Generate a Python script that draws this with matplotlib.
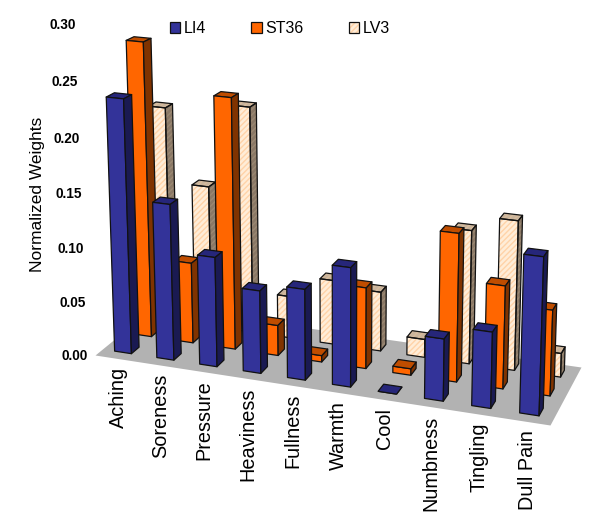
import numpy as np
import matplotlib
matplotlib.use("Agg")
import matplotlib.pyplot as plt
from matplotlib.patches import Patch
from matplotlib.legend_handler import HandlerTuple
from mpl_toolkits.mplot3d.art3d import Poly3DCollection

plt.rcParams['font.family'] = ['Liberation Sans', 'DejaVu Sans']
plt.rcParams['hatch.linewidth'] = 1.0

# ---- data -------------------------------------------------------------
categories = ['Aching', 'Soreness', 'Pressure', 'Heaviness', 'Fullness',
              'Warmth', 'Cool', 'Numbness', 'Tingling', 'Dull Pain']
series_names = ['LI4', 'ST36', 'LV3']
li4 = [0.234, 0.144, 0.101, 0.076, 0.083, 0.108, 0.000, 0.056, 0.068, 0.139]
st36 = [0.275, 0.076, 0.233, 0.0285, 0.006, 0.075, 0.006, 0.135, 0.0935, 0.0775]
lv3 = [0.205, 0.135, 0.214, 0.040, 0.061, 0.056, 0.017, 0.124, 0.138, 0.022]
yticks = [0.00, 0.05, 0.10, 0.15, 0.20, 0.25, 0.30]
ylabel = 'Normalized Weights'

# ---- camera: where the floor corners and the vertical axis land --------
W, H = 600, 522
n = len(categories)
ZMAX = 0.30
A, B, C, D = [np.array(p, float) for p in [(95, 355), (550, 425), (581, 367), (155, 306)]]
VANISH = np.array([341.0, 7200.0])
AXIS_TOP_Y = 24.0

gh = np.linalg.solve(np.column_stack([B - C, D - C]), A - B + C - D)
g, h = gh
t = (AXIS_TOP_Y - A[1]) / (VANISH[1] - AXIS_TOP_Y) / ZMAX
P = np.zeros((3, 4))
P[:2, 0] = (B * (1 + g) - A) / n
P[2, 0] = g / n
P[:2, 1] = D * (1 + h) - A
P[2, 1] = h
P[:2, 2] = t * VANISH
P[2, 2] = t
P[:2, 3] = A
P[2, 3] = 1.0


def project(x, y, z):
    q = P @ np.array([x, y, z, 1.0])
    return q[0] / q[2], q[1] / q[2]


fig = plt.figure(figsize=(W / 100, H / 100), dpi=100, facecolor='white')
ax = fig.add_axes([0, 0, 1, 1], projection='3d')
ax.set_axis_off()
ax.computed_zorder = False


def get_proj():
    T = ax.transData.get_matrix()
    flip = np.array([[1, 0, 0], [0, -1, H], [0, 0, 1.0]])
    q = np.linalg.inv(T) @ flip @ P
    return np.vstack([q[0], q[1], [0, 0, 0, 1.0], q[2]])


ax.get_proj = get_proj

# ---- styles ------------------------------------------------------------
colors = [
    dict(front='#333399', side='#1A1A52', top='#26267A'),
    dict(front='#FF6600', side='#803300', top='#BF4D00'),
    dict(front='#FFEDD8', side='#8A7866', top='#C9B49C'),
]
hatch_colors = dict(front='#FFD3A8', side='#9A8872', top='#D8BC9C')
EDGE = '#111111'
LW = 0.9
BAR_X = (0.30, 0.70)
SLOT_Y = [(1 / 9, 1 / 9 + 0.125), (4 / 9, 4 / 9 + 0.125), (7 / 9, 7 / 9 + 0.125)]
GREY = '#808080'
CLEAR = (0, 0, 0, 0)


def faces(u, yr, z):
    x0, x1 = u + BAR_X[0], u + BAR_X[1]
    y0, y1 = yr
    return dict(
        front=[(x0, y0, 0), (x1, y0, 0), (x1, y0, z), (x0, y0, z)],
        side=[(x1, y0, 0), (x1, y1, 0), (x1, y1, z), (x1, y0, z)],
        top=[(x0, y0, z), (x1, y0, z), (x1, y1, z), (x0, y1, z)],
    )


def add(verts, zo, **kw):
    c = Poly3DCollection(verts, zorder=zo, clip_on=False, **kw)
    ax.add_collection3d(c, autolim=False)
    return c


# floor
add([[(0, 0, 0), (n, 0, 0), (n, 1, 0), (0, 1, 0)]], 1,
    facecolors='#B2B2B2', edgecolors='#B2B2B2', linewidths=0)
ax.plot([0, n], [0, 0], [0, 0], color=GREY, lw=0.9, zorder=2, clip_on=False)
ax.plot([0, 0], [0, 0], [0, ZMAX], color=GREY, lw=0.9, zorder=2, clip_on=False)
for u in range(n + 1):
    ax.plot([u, u], [0, 0], [0, -0.0055], color=GREY, lw=0.9, zorder=2, clip_on=False)
for v in yticks:
    ax.plot([0, -0.15], [0, 0], [v, v], color=GREY, lw=0.9, zorder=2, clip_on=False)

# bars: back row first, left to right in each row
zo = 10
for s in (2, 1, 0):
    vals = [li4, st36, lv3][s]
    for u, val in enumerate(vals):
        f = faces(u, SLOT_Y[s], val)
        names = ['front', 'side', 'top']
        if s == 2:
            for name in names:
                add([f[name]], zo, facecolors=colors[s][name],
                    edgecolors=hatch_colors[name], linewidths=0, hatch='//////')
            zo += 1
            add([f[k] for k in names], zo, facecolors=[CLEAR] * 3,
                edgecolors=EDGE, linewidths=LW)
        else:
            add([f[k] for k in names], zo,
                facecolors=[colors[s][k] for k in names],
                edgecolors=EDGE, linewidths=LW)
        zo += 1


def figxy(px, py):
    return px / W, 1 - py / H


# tick labels
for v in yticks:
    px, py = project(0, 0, v)
    fx, fy = figxy(px - 7, py + 1)
    fig.text(fx, fy, f'{v:.2f}', ha='right', va='center', fontsize=9.8,
             fontweight='bold', color='black')
for u, name in enumerate(categories):
    px, py = project(u + 0.5, 0, 0)
    fx, fy = figxy(px + 2, py + 9)
    fig.text(fx, fy, name, rotation=90, ha='center', va='top', fontsize=14.3,
             color='black')
fx, fy = figxy(38, 194)
fig.text(fx, fy, ylabel, rotation=90, ha='center', va='center', fontsize=12.5,
         color='black')

# legend
h1 = Patch(facecolor=colors[0]['front'], edgecolor=EDGE, linewidth=LW)
h2 = Patch(facecolor=colors[1]['front'], edgecolor=EDGE, linewidth=LW)
h3a = Patch(facecolor=colors[2]['front'], edgecolor=hatch_colors['front'], linewidth=0, hatch='//////')
h3b = Patch(facecolor='none', edgecolor=EDGE, linewidth=LW)
lx, ly = figxy(170, 21)
fig.legend([h1, h2, (h3a, h3b)], series_names, ncol=3, loc='upper left',
           bbox_to_anchor=(lx, ly), frameon=False, fontsize=11.5,
           handlelength=0.65, handleheight=0.75, handletextpad=0.2,
           columnspacing=2.85, borderpad=0, borderaxespad=0,
           handler_map={tuple: HandlerTuple(ndivide=1, pad=0)})

fig.savefig('out.png', dpi=100)
